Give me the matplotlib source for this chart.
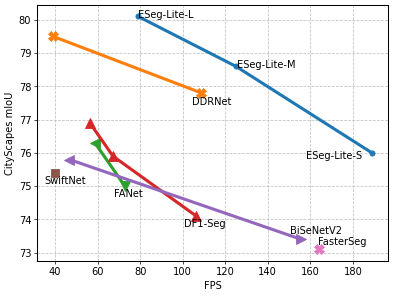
import matplotlib
matplotlib.use("Agg")
import matplotlib.pyplot as plt

eseg_fps = [79, 125, 189]
eseg_miou = [80.1, 78.6, 76.0]
ddr_fps = [39, 108.8]
ddr_miou = [79.5, 77.8]
fanet_fps = [58.7, 72.8]
fanet_miou = [76.3, 75.0]
df_fps = [56.3, 67.2, 106.4]
df_miou = [76.9, 75.9, 74.1]
bise_fps = [46.7, 155.8]
bise_miou = [75.8, 73.4]
swift_fps = [40.0]
swift_miou = [75.4]
faster_fps = [163.9]
faster_miou = [73.1]

plt.rcParams['font.size'] = 11.5
fig = plt.figure(figsize=(6.4, 4.8), dpi=61.72)
ax = fig.add_subplot(111)

LW = 3.6
ax.plot(eseg_fps, eseg_miou, color='C0', lw=LW, marker='o', ms=6)
ax.plot(ddr_fps, ddr_miou, color='C1', lw=LW, marker='X', ms=11)
ax.plot(fanet_fps, fanet_miou, color='C2', lw=LW)
for x, y, m in zip(fanet_fps, fanet_miou, ['<', 'v']):
    ax.plot([x], [y], color='C2', marker=m, ms=11)
ax.plot(df_fps, df_miou, color='C3', lw=LW, marker='^', ms=11)
ax.plot(bise_fps, bise_miou, color='C4', lw=LW)
for x, y, m in zip(bise_fps, bise_miou, ['<', '>']):
    ax.plot([x], [y], color='C4', marker=m, ms=11)
ax.plot(swift_fps, swift_miou, color='C5', lw=0, marker='s', ms=10)
ax.plot(faster_fps, faster_miou, color='C6', lw=0, marker='X', ms=11)

labels = [
    ("ESeg-Lite-L", eseg_fps[0], eseg_miou[0], 0, 2, 'left'),
    ("ESeg-Lite-M", eseg_fps[1], eseg_miou[1], 1, 2, 'left'),
    ("ESeg-Lite-S", eseg_fps[2], eseg_miou[2], -10, -3, 'right'),
    ("DDRNet", ddr_fps[1], ddr_miou[1], 10, -9, 'center'),
    ("FANet", fanet_fps[1], fanet_miou[1], 3, -8, 'center'),
    ("DF1-Seg", df_fps[2], df_miou[2], 8, -8, 'center'),
    ("SwiftNet", swift_fps[0], swift_miou[0], 10, -8, 'center'),
    ("BiSeNetV2", bise_fps[1], bise_miou[1], 15, 9, 'center'),
    ("FasterSeg", faster_fps[0], faster_miou[0], 24, 8, 'center'),
]
for t, x, y, dx, dy, ha in labels:
    ax.annotate(t, (x, y), xytext=(dx, dy), textcoords='offset pixels',
                ha=ha, va='center', fontsize=11.5)

ax.grid(True, ls='--', color='#c0c0c0', lw=0.9)
ax.set_axisbelow(True)
ax.set_xlabel("FPS")
ax.set_ylabel("CityScapes mIoU")
ax.set_xticks([40, 60, 80, 100, 120, 140, 160, 180])
ax.set_yticks([73, 74, 75, 76, 77, 78, 79, 80])
for s in ax.spines.values():
    s.set_linewidth(1.2)
fig.subplots_adjust(left=0.094, right=0.982, top=0.983, bottom=0.118)
fig.savefig("out.png", dpi=61.72)
